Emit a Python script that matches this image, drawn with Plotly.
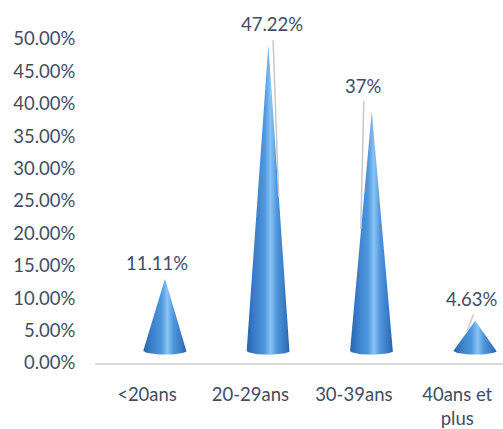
import numpy as np
import plotly.graph_objects as go

# ---- data ----
categories = ["<20ans", "20-29ans", "30-39ans", "40ans et plus"]
tick_labels = ["<20ans", "20-29ans", "30-39ans", "40ans et<br>plus"]
values = [11.11, 47.22, 37.0, 4.63]          # percent
value_labels = ["11.11%", "47.22%", "37%", "4.63%"]
y_ticks = [0, 5, 10, 15, 20, 25, 30, 35, 40, 45, 50]
y_tick_labels = ["%.2f%%" % t for t in y_ticks]

# ---- style / layout constants ----
FONT = "Lato"
FS = 18.5
TXT = "#3f4d63"
cone_shift = 0.174        # 3D depth offset of cone centres vs category ticks (x units)
half_w = 0.21             # cone base half width (x units)
floor = 1.9               # 3D floor elevation (% units)
ell_h = 0.62              # base ellipse half height (% units)
label_dx = [-8, 4, -9, -3]       # px
label_dy = [16, 21, 25, 22]      # px
leader_top_pad = [None, 0.7, 1.5, 1.0]
leader_bot_frac = [None, 0.544, 0.56, 1.04]
leader_dx_top = [0, 4.7, -8, -1.7]
leader_dx_bot = [0, 10.3, -11, -8.3]

grad = [[0.0, "#2a64aa"], [0.2, "#3a80cc"], [0.42, "#4e98de"],
        [0.56, "#8ac4f4"], [0.7, "#4f97dc"], [0.9, "#3777c2"], [1.0, "#2a62a8"]]

fig = go.Figure()
t = np.linspace(0, np.pi, 40)
for i, v in enumerate(values):
    xc = i + cone_shift
    xs = [xc, xc + half_w] + list(xc + half_w * np.cos(t)) + [xc - half_w, xc]
    ys = [floor + v, floor] + list(floor - ell_h * np.sin(t)) + [floor, floor + v]
    fig.add_trace(go.Scatter(
        x=xs, y=ys, mode="lines", fill="toself",
        line=dict(width=0, color="#2a64aa"),
        fillgradient=dict(type="horizontal", colorscale=grad),
        hoverinfo="skip", showlegend=False))
    fig.add_annotation(x=xc, y=floor + v, text=value_labels[i], showarrow=False,
                       xshift=label_dx[i], yshift=label_dy[i], yanchor="middle",
                       font=dict(family=FONT, size=FS, color=TXT))
    if leader_top_pad[i] is not None:
        fig.add_shape(type="line", xref="x", yref="y", xsizemode="pixel", xanchor=xc,
                      x0=leader_dx_top[i], x1=leader_dx_bot[i],
                      y0=floor + v + leader_top_pad[i], y1=v * leader_bot_frac[i],
                      line=dict(color="#c8c8c8", width=1.5), layer="above")

fig.update_layout(
    width=503, height=429,
    margin=dict(l=95, r=0, t=39, b=62.5),
    paper_bgcolor="white", plot_bgcolor="white",
    font=dict(family=FONT, size=FS, color=TXT),
    xaxis=dict(range=[-0.503, 3.443], tickvals=list(range(len(categories))),
               ticktext=tick_labels, showgrid=False, zeroline=False,
               showline=True, linecolor="#d9d9d9", linewidth=2,
               ticks="outside", ticklen=14, tickcolor="rgba(0,0,0,0)",
               tickfont=dict(family=FONT, size=FS, color=TXT), fixedrange=True),
    yaxis=dict(range=[0, 50], tickvals=y_ticks, ticktext=y_tick_labels,
               showgrid=False, zeroline=False, showline=False,
               ticks="outside", ticklen=15, tickcolor="rgba(0,0,0,0)",
               tickfont=dict(family=FONT, size=FS, color=TXT), fixedrange=True),
)

fig.write_html("out.html")
